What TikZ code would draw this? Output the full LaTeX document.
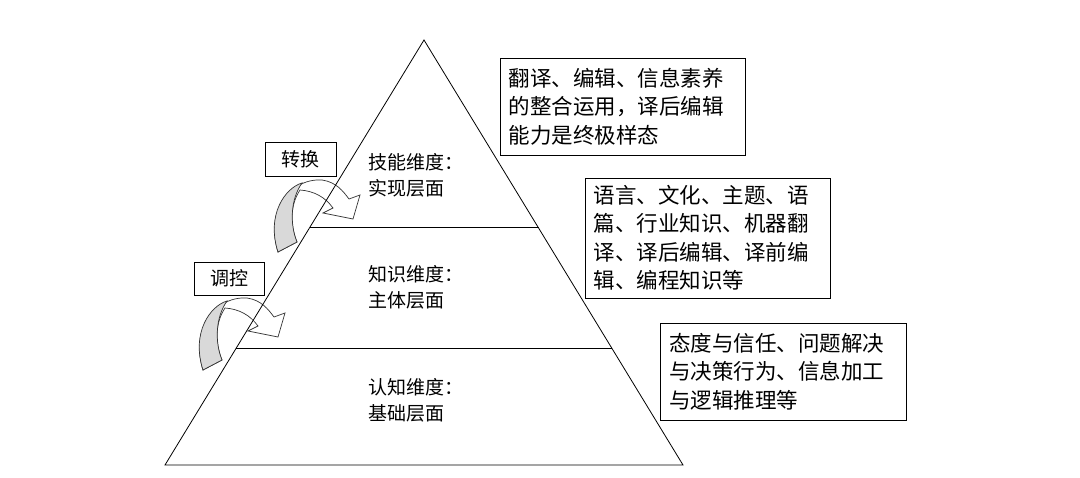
\documentclass[tikz,border=0pt]{standalone}
\usepackage{fontspec}
\newfontfamily\cjk{Noto Sans CJK SC}
\begin{document}
\begin{tikzpicture}[x=1pt,y=-1pt,
  tbox/.style={draw,line width=0.8pt,inner sep=0pt},
  lbl/.style={font=\cjk\fontsize{19}{26}\selectfont,align=left},
  big/.style={font=\cjk\fontsize{21.5}{28.5}\selectfont,align=left,text width=228pt},
  arr/.style={draw=black!80,line width=0.7pt}]
\useasboundingbox (0,0) rectangle (1080,478);
\fill[white] (0,0) rectangle (1080,478);
% curved arrows
\foreach \dx/\dy/\n in {0/0/a1,-75/118/a2}{
\begin{scope}[shift={(\dx,\dy)}]
\filldraw[arr,fill=white] (278,252) .. controls (266,215) and (288,178) .. (322,180) .. controls (336,182) and (343,191) .. (349,199) -- (360,195) -- (353,219) -- (323,213) -- (333,208) .. controls (325,197) and (314,191) .. (300,190) .. controls (290,205) and (290,225) .. (297,242) -- cycle;
\filldraw[arr,fill=black!15] (278,252) .. controls (266,215) and (285,188) .. (302,183) .. controls (290,200) and (290,225) .. (297,242) -- cycle;
\end{scope}}
% pyramid
\coordinate (A) at (424,40);
\coordinate (L) at (165,465);
\coordinate (R) at (683,465);
\draw[line width=0.8pt] (A) -- (L) -- (R) -- cycle;
\draw[line width=0.8pt] (310,227) -- (539,227);
\draw[line width=0.8pt] (236,348) -- (612,348);
\node[lbl] (t1) at (416,175) {技能维度：\\实现层面};
\node[lbl] (t2) at (416,287) {知识维度：\\主体层面};
\node[lbl] (t3) at (416,400) {认知维度：\\基础层面};
\node[tbox,minimum width=71pt,minimum height=34pt,lbl] (zh) at (300.5,159) {转换};
\node[tbox,minimum width=70pt,minimum height=33pt,lbl] (tk) at (229,278.5) {调控};
\node[tbox,minimum width=245pt,minimum height=97pt,big] (b1) at (622.5,106.5) {翻译、编辑、信息素养\\的整合运用，译后编辑\\能力是终极样态};
\node[tbox,minimum width=245pt,minimum height=120pt,big] (b2) at (707.5,238) {语言、文化、主题、语\\篇、行业知识、机器翻\\译、译后编辑、译前编\\辑、编程知识等};
\node[tbox,minimum width=246pt,minimum height=97pt,big] (b3) at (783,371.5) {态度与信任、问题解决\\与决策行为、信息加工\\与逻辑推理等};
\end{tikzpicture}
\end{document}
